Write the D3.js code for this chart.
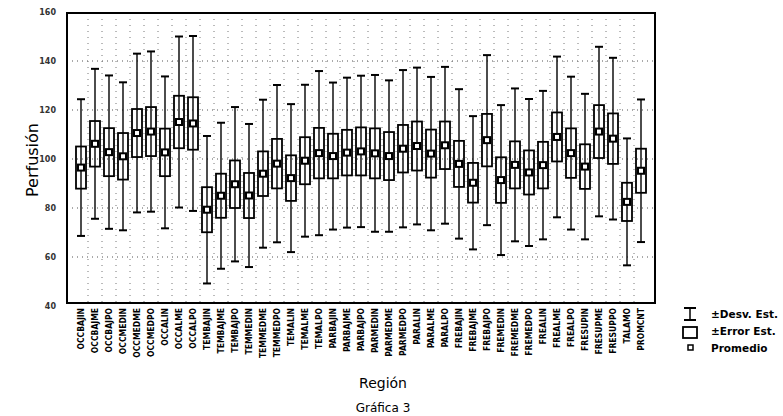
<!DOCTYPE html>
<html>
<head>
<meta charset="utf-8">
<script src="https://cdn.jsdelivr.net/npm/d3@7"></script>
<style>
  body { margin: 0; background: #fff; }
  svg { display: block; }
</style>
</head>
<body>
<div id="chart"></div>
<script>
// categories (region codes)
var regiones = [
  "OCCBAJIN", "OCCBAJME", "OCCBAJPO", "OCCMEDIN", "OCCMEDME", "OCCMEDPO", "OCCALIN", "OCCALME", "OCCALPO",
  "TEMBAJIN", "TEMBAJME", "TEMBAJPO", "TEMMEDIN", "TEMMEDME", "TEMMEDPO", "TEMALIN", "TEMALME", "TEMALPO",
  "PARBAJIN", "PARBAJME", "PARBAJPO", "PARMEDIN", "PARMEDME", "PARMEDPO", "PARALIN", "PARALME", "PARALPO",
  "FREBAJIN", "FREBAJME", "FREBAJPO", "FREMEDIN", "FREMEDME", "FREMEDPO", "FREALIN", "FREALME", "FREALPO",
  "FRESUPIN", "FRESUPME", "FRESUPPO", "TALAMO", "PROMCNT"
];

// promedio (mean) per region
var promedio = [
  96.5, 106.2, 102.8, 101.1, 110.6, 111.2, 102.7, 115.1, 114.5,
  79.3, 85.0, 89.7, 85.1, 94.0, 98.1, 92.2, 99.3, 102.4,
  101.2, 102.6, 103.1, 102.3, 101.2, 104.2, 105.3, 102.2, 105.6,
  98.0, 90.3, 107.7, 91.4, 97.6, 94.5, 97.5, 109.0, 102.4,
  96.9, 111.2, 108.3, 82.5, 95.2
];

// error estandar (box half-height)
var errorEst = [
  8.6, 9.3, 9.8, 9.5, 9.8, 10.0, 9.7, 10.7, 10.7,
  9.2, 9.0, 9.7, 9.2, 9.1, 10.1, 9.3, 9.6, 10.3,
  9.1, 9.3, 9.8, 10.2, 9.8, 9.7, 10.0, 9.8, 9.7,
  9.4, 8.1, 10.7, 9.3, 9.6, 9.0, 9.5, 10.0, 10.1,
  9.1, 10.8, 10.3, 7.8, 9.0
];

// desviacion estandar (whiskers)
var desvEst = [
  27.9, 30.6, 31.3, 30.2, 32.4, 32.7, 31.0, 34.9, 35.7,
  30.1, 29.8, 31.5, 29.2, 30.2, 32.1, 30.2, 31.0, 33.5,
  30.0, 30.6, 30.9, 32.0, 30.9, 32.1, 32.0, 31.3, 32.0,
  30.5, 27.2, 34.7, 30.6, 31.2, 30.0, 30.3, 32.8, 31.2,
  29.7, 34.6, 33.0, 25.9, 29.1
];

var yTicks = [40, 60, 80, 100, 120, 140, 160];
var leyenda = ["\u00b1Desv. Est.", "\u00b1Error Est.", "Promedio"];

var data = regiones.map(function (r, i) {
  return { region: r, mean: promedio[i], se: errorEst[i], sd: desvEst[i] };
});

var W = 783, H = 416;
var plot = { left: 67, right: 655, top: 13, bottom: 303 };

var svg = d3.select("#chart")
  .append("svg")
  .attr("width", W)
  .attr("height", H);

// scales
var x = d3.scalePoint()
  .domain(regiones)
  .range([plot.left, plot.right])
  .padding(1);

var y = d3.scaleLinear()
  .domain([40, 160])
  .range([306, 12]);

// dotted grid
svg.append("g")
  .selectAll("line")
  .data(yTicks.filter(function (d) { return d > 40 && d < 160; }))
  .enter()
  .append("line")
  .attr("x1", plot.left).attr("x2", plot.right)
  .attr("y1", function (d) { return y(d); })
  .attr("y2", function (d) { return y(d); })
  .attr("stroke", "#555")
  .attr("stroke-width", 1)
  .attr("stroke-dasharray", "1,4");

svg.append("g")
  .selectAll("line")
  .data(regiones.slice(1))
  .enter()
  .append("line")
  .attr("x1", function (d) { return x(d) - x.step() / 2; })
  .attr("x2", function (d) { return x(d) - x.step() / 2; })
  .attr("y1", plot.top).attr("y2", plot.bottom)
  .attr("stroke", "#777")
  .attr("stroke-width", 1)
  .attr("stroke-dasharray", "1,5");

// y axis labels
var yAxis = svg.append("g")
  .attr("transform", "translate(56,0)")
  .call(d3.axisLeft(y).tickValues(yTicks).tickSize(0).tickPadding(0));
yAxis.select(".domain").remove();
yAxis.selectAll("text")
  .style("font-family", "DejaVu Sans, sans-serif")
  .style("font-size", "8px")
  .style("font-weight", "bold")
  .style("fill", "#333");

// x axis labels (rotated)
var xAxis = svg.append("g")
  .attr("transform", "translate(0," + (plot.bottom + 4) + ")")
  .call(d3.axisBottom(x).tickSize(0).tickPadding(0));
xAxis.select(".domain").remove();
xAxis.selectAll("text")
  .attr("transform", "rotate(-90)")
  .attr("x", -1)
  .attr("y", 0)
  .attr("dy", "0.35em")
  .style("text-anchor", "end")
  .style("font-family", "'Liberation Sans Narrow', 'DejaVu Sans Condensed', sans-serif")
  .style("font-size", "8.5px")
  .style("font-weight", "bold")
  .style("fill", "#000");

// boxes
var g = svg.append("g");
var boxW = 10, capW = 8;

// whiskers (±SD)
g.selectAll("line.whisker")
  .data(data)
  .enter()
  .append("line")
  .attr("class", "whisker")
  .attr("x1", function (d) { return x(d.region); })
  .attr("x2", function (d) { return x(d.region); })
  .attr("y1", function (d) { return y(d.mean + d.sd); })
  .attr("y2", function (d) { return y(d.mean - d.sd); })
  .attr("stroke", "#000")
  .attr("stroke-width", 1.4);

["top", "bot"].forEach(function (side) {
  g.selectAll("line.cap-" + side)
    .data(data)
    .enter()
    .append("line")
    .attr("class", "cap-" + side)
    .attr("x1", function (d) { return x(d.region) - capW / 2; })
    .attr("x2", function (d) { return x(d.region) + capW / 2; })
    .attr("y1", function (d) { return y(side == "top" ? d.mean + d.sd : d.mean - d.sd); })
    .attr("y2", function (d) { return y(side == "top" ? d.mean + d.sd : d.mean - d.sd); })
    .attr("stroke", "#000")
    .attr("stroke-width", 2);
});

// box (±SE)
g.selectAll("rect.box")
  .data(data)
  .enter()
  .append("rect")
  .attr("class", "box")
  .attr("x", function (d) { return x(d.region) - boxW / 2; })
  .attr("y", function (d) { return y(d.mean + d.se); })
  .attr("width", boxW)
  .attr("height", function (d) { return y(d.mean - d.se) - y(d.mean + d.se); })
  .attr("fill", "none")
  .attr("stroke", "#000")
  .attr("stroke-width", 1.8);

// mean marker
g.selectAll("rect.mean")
  .data(data)
  .enter()
  .append("rect")
  .attr("class", "mean")
  .attr("x", function (d) { return x(d.region) - 3; })
  .attr("y", function (d) { return y(d.mean) - 3; })
  .attr("width", 6)
  .attr("height", 6)
  .attr("fill", "#fff")
  .attr("stroke", "#000")
  .attr("stroke-width", 2);

// frame
svg.append("rect")
  .attr("x", plot.left)
  .attr("y", plot.top)
  .attr("width", plot.right - plot.left)
  .attr("height", plot.bottom - plot.top)
  .attr("fill", "none")
  .attr("stroke", "#000")
  .attr("stroke-width", 2);

// titles
svg.append("text")
  .attr("transform", "translate(38,160) rotate(-90)")
  .attr("text-anchor", "middle")
  .style("font-family", "'DejaVu Sans', sans-serif")
  .style("font-size", "16px")
  .text("Perfusi\u00f3n");

svg.append("text")
  .attr("x", 383)
  .attr("y", 388)
  .attr("text-anchor", "middle")
  .style("font-family", "'DejaVu Sans', sans-serif")
  .style("font-size", "14px")
  .text("Regi\u00f3n");

svg.append("text")
  .attr("x", 383)
  .attr("y", 412)
  .attr("text-anchor", "middle")
  .style("font-family", "'DejaVu Sans', sans-serif")
  .style("font-size", "12px")
  .text("Gr\u00e1fica 3");

// legend
var lg = svg.append("g").attr("transform", "translate(690,0)");
lg.append("line").attr("x1", 0).attr("x2", 0).attr("y1", 308).attr("y2", 320).attr("stroke", "#000").attr("stroke-width", 1.5);
lg.append("line").attr("x1", -6).attr("x2", 6).attr("y1", 308).attr("y2", 308).attr("stroke", "#000").attr("stroke-width", 2);
lg.append("line").attr("x1", -6).attr("x2", 6).attr("y1", 320).attr("y2", 320).attr("stroke", "#000").attr("stroke-width", 2);
lg.append("rect").attr("x", -7).attr("y", 327).attr("width", 14).attr("height", 11)
  .attr("fill", "none").attr("stroke", "#000").attr("stroke-width", 1.8);
lg.append("rect").attr("x", -2).attr("y", 345).attr("width", 5).attr("height", 5)
  .attr("fill", "#fff").attr("stroke", "#000").attr("stroke-width", 1.5);

lg.selectAll("text.leg")
  .data(leyenda)
  .enter()
  .append("text")
  .attr("class", "leg")
  .attr("x", 21)
  .attr("y", function (d, i) { return 318 + i * 17; })
  .style("font-family", "'DejaVu Sans', sans-serif")
  .style("font-size", "10.5px")
  .style("font-weight", "bold")
  .text(function (d) { return d; });
</script>
</body>
</html>
